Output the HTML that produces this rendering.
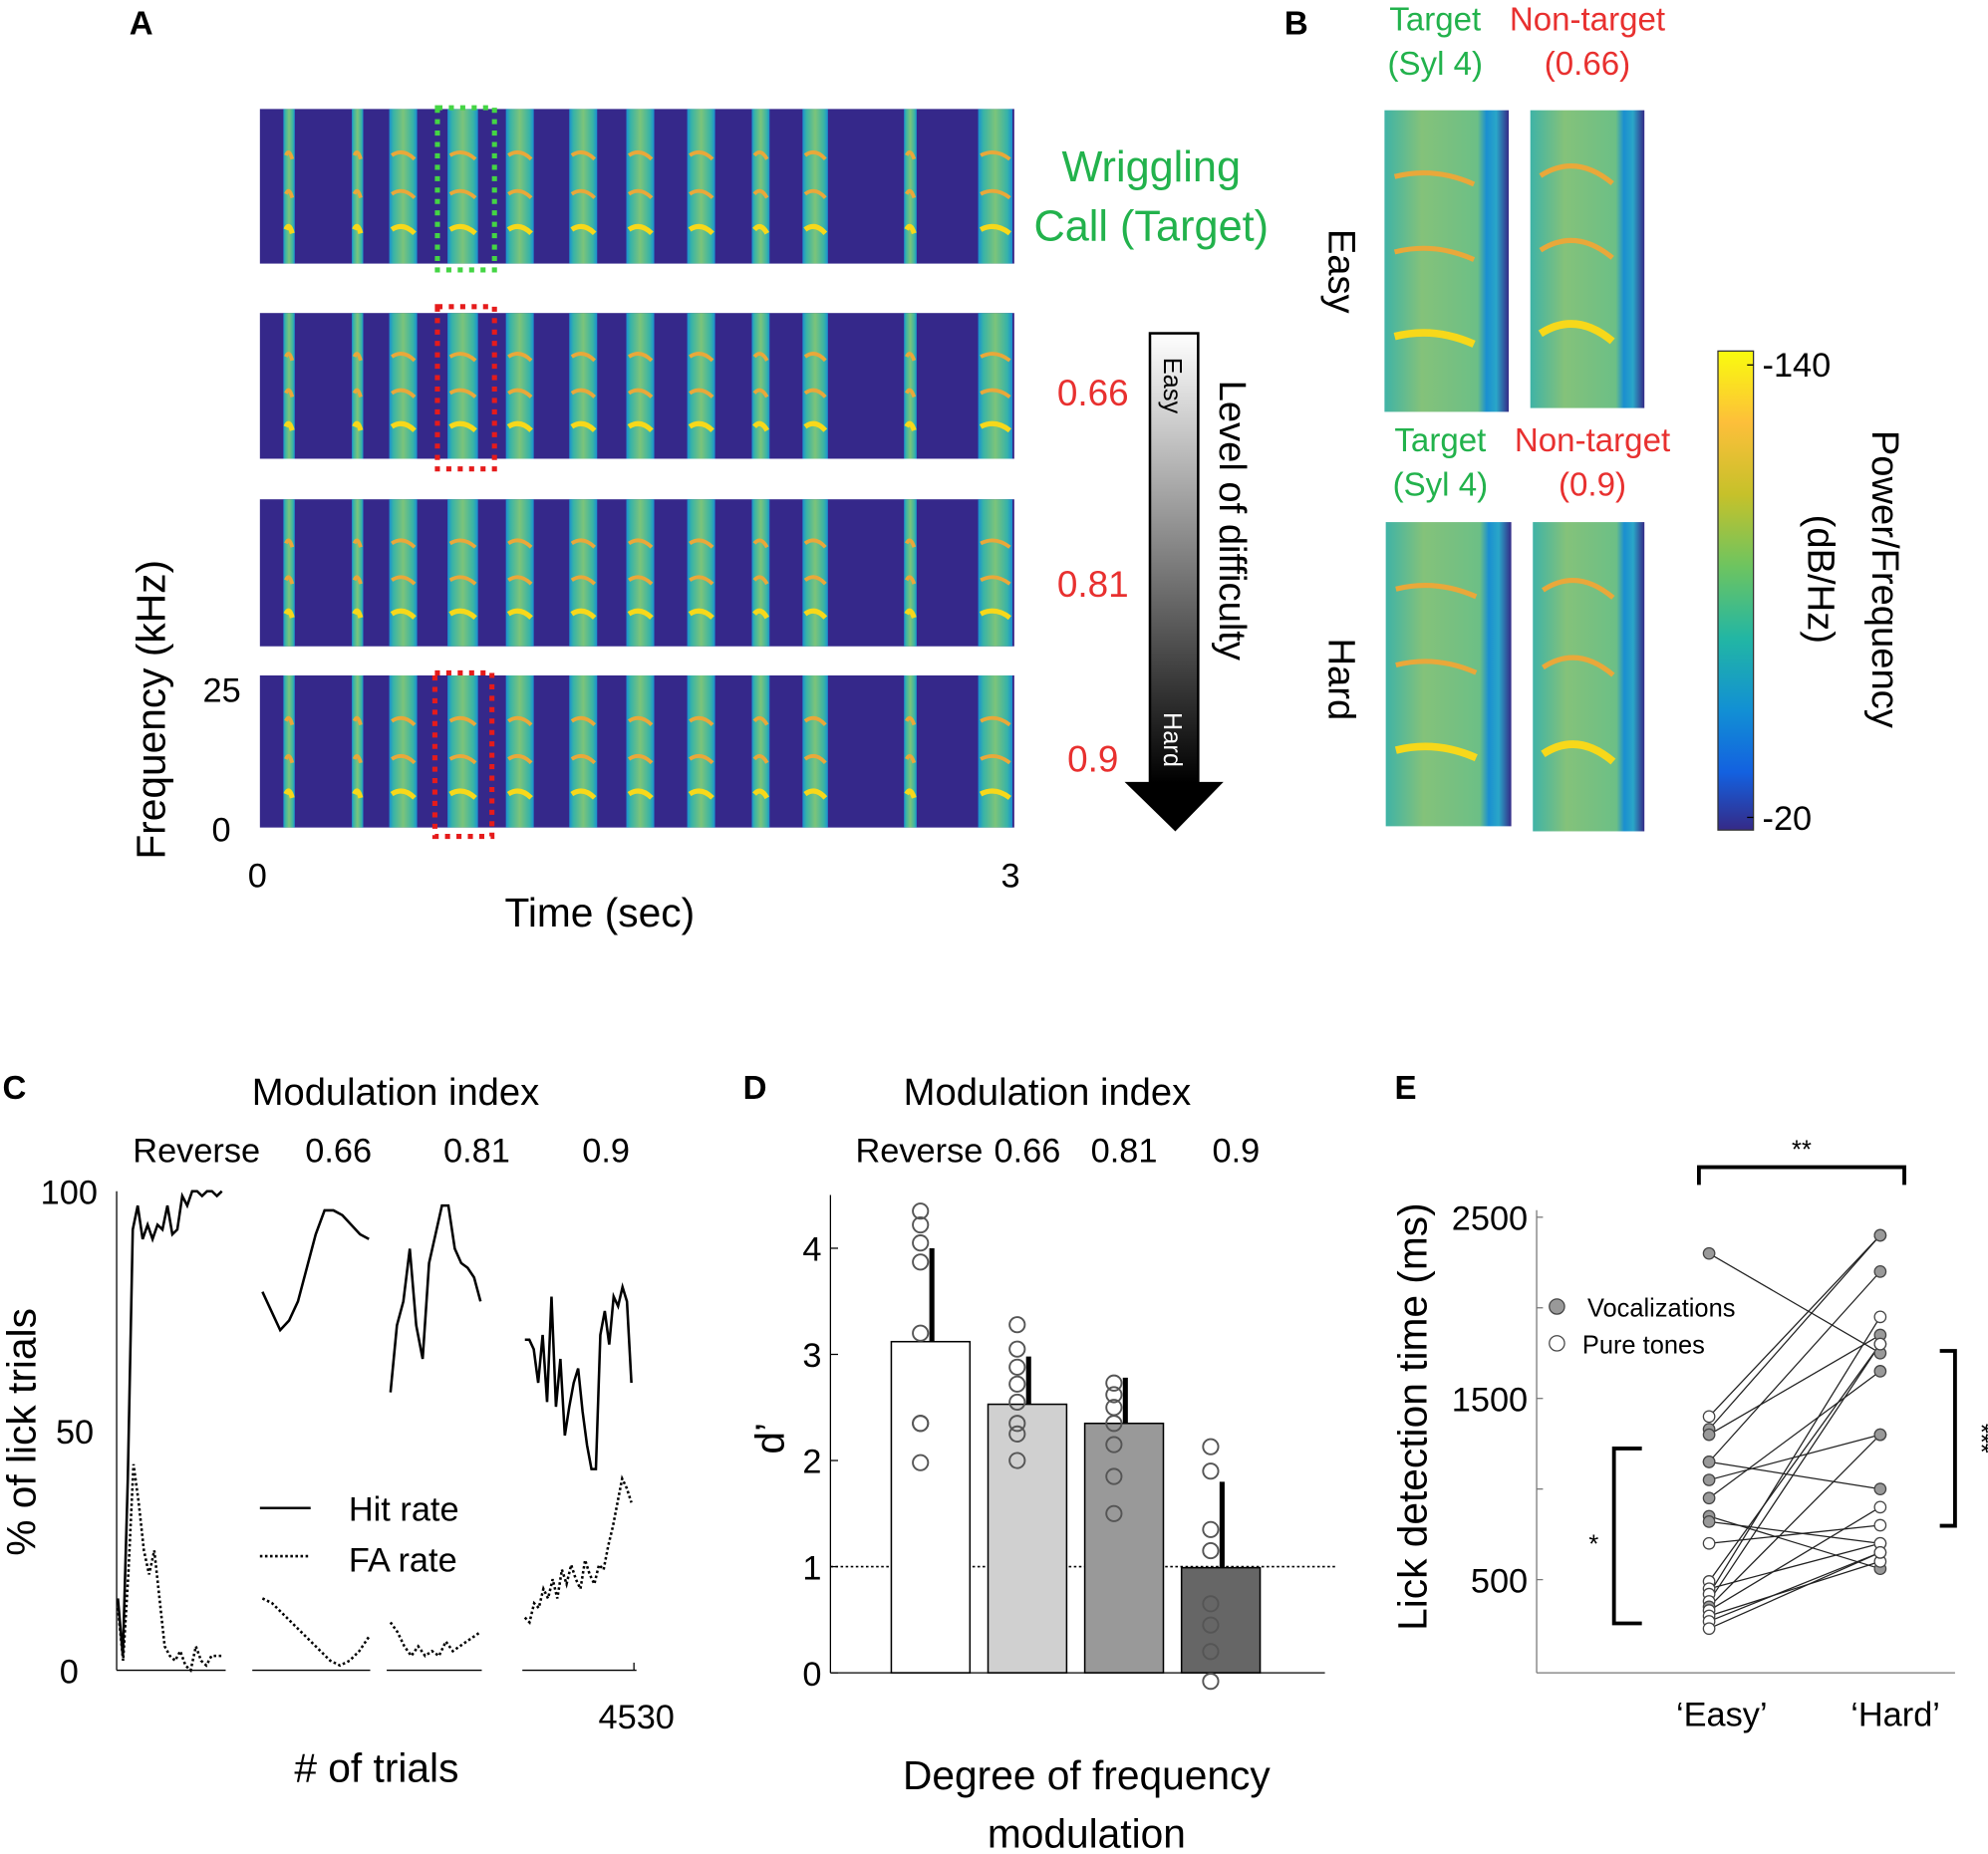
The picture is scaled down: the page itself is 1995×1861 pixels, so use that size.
<!DOCTYPE html>
<html><head><meta charset="utf-8">
<style>
html,body{margin:0;padding:0;background:#fff}
svg{display:block;font-family:"Liberation Sans",sans-serif}
</style></head>
<body>
<svg id="fig" width="1995" height="1861" viewBox="0 0 1568 1463" preserveAspectRatio="none" xmlns="http://www.w3.org/2000/svg">
<defs>
<linearGradient id="parula" x1="0" y1="0" x2="0" y2="1">
<stop offset="0" stop-color="#f9fb0e"/><stop offset="0.15" stop-color="#fdbf3a"/><stop offset="0.3" stop-color="#c6c12a"/><stop offset="0.45" stop-color="#6dc460"/><stop offset="0.6" stop-color="#22b6a4"/><stop offset="0.75" stop-color="#1290d4"/><stop offset="0.88" stop-color="#1361e0"/><stop offset="1" stop-color="#352a87"/>
</linearGradient>
<linearGradient id="diff" x1="0" y1="0" x2="0" y2="1"><stop offset="0" stop-color="#fff"/><stop offset="1" stop-color="#000"/></linearGradient>
<linearGradient id="syl" x1="0" y1="0" x2="1" y2="0"><stop offset="0" stop-color="#1a8fd0"/><stop offset="0.15" stop-color="#37b3a8"/><stop offset="0.5" stop-color="#7cc47a"/><stop offset="0.85" stop-color="#37b3a8"/><stop offset="1" stop-color="#1a8fd0"/></linearGradient>
<linearGradient id="bimg" x1="0" y1="0" x2="1" y2="0"><stop offset="0" stop-color="#3fb3a6"/><stop offset="0.3" stop-color="#84c27a"/><stop offset="0.75" stop-color="#6cbf86"/><stop offset="0.82" stop-color="#1a8fd0"/><stop offset="0.9" stop-color="#2aa6c8"/><stop offset="1" stop-color="#352a87"/></linearGradient>
</defs>
<g id="panelA"></g>
<g id="panelB"></g>
<g id="panelC"></g>
<g id="panelD"></g>
<g id="panelE"></g>
</svg>
<script>
// ---- Panel C data ----
const cHit1=[15,3,40,92,97,90,93,90,93,92,97,91,92,99,97,100,100,99,100,100,99,100];
const cFa1=[13,2,20,43,35,25,20,25,15,5,3,2,4,1,0,5,2,1,3,3,3];
const cHit2=[79,75,71,73,77,84,91,96,96,95,93,91,90];
const cFa2=[15,14,12,10,8,6,4,2,1,2,4,7];
const cHit3=[58,72,77,88,72,65,85,91,97,97,88,85,84,82,77];
const cFa3=[10,8,5,3,5,3,4,3,6,4,5,6,7,8];
const cHit4=[69,69,67,60,70,56,78,55,65,49,55,60,63,54,47,42,42,70,75,68,78,76,80,77,60];
const cFa4=[11,10,14,13,17,15,19,15,21,18,22,19,17,23,20,18,22,21,26,30,35,40,38,35];
const cTicks=[0,50,100];
// ---- Panel D data ----
const dCategories=["Reverse","0.66","0.81","0.9"];
const dMeans=[3.12,2.53,2.35,0.99];
const dErr=[4.0,2.98,2.78,1.8];
const dDots1=[4.35,4.22,4.05,3.87,3.2,2.35,2.35,1.98];
const dDots2=[3.28,3.05,2.88,2.72,2.55,2.35,2.25,2.0];
const dDots3=[2.73,2.62,2.5,2.35,2.15,1.85,1.5];
const dDots4=[2.13,1.9,1.35,1.15,0.65,0.45,0.2,-0.08];
const dTicks=[0,1,2,3,4];
// ---- Panel E data ----
const eEasy=[2300,1400,1330,1300,1150,1150,1050,950,850,820,700,490,450,420,380,350,330,300,270,230];
const eHard=[1750,2400,2400,1850,2200,1000,1300,1650,560,700,800,1800,700,1950,1800,1300,900,600,650,650];
const eVoc=[1,0,1,1,1,1,1,1,1,1,0,0,0,0,0,1,0,0,0,0];
const eTicks=[500,1500,2500];

const NS="http://www.w3.org/2000/svg";
function mk(parent,tag,attrs,text){const e=document.createElementNS(NS,tag);for(const k in attrs)e.setAttribute(k,attrs[k]);if(text!==undefined)e.textContent=text;parent.appendChild(e);return e;}

// ===== Panel A =====
const A=document.getElementById('panelA');
let t=mk(A,'text',{x:102,y:27,'font-size':26,'font-weight':'bold'},'A');

const strips=[[86,208],[247,362],[394,510],[533,653]];
const sylX=[228,282,318,365,410,460,505,553,600,643,718,785];
const sylW=[9,9,22,24,22,22,22,22,14,20,10,27];
strips.forEach((s,i)=>{
  const g=mk(A,'g',{});
  
  mk(g,'rect',{x:205,y:s[0],width:595,height:s[1]-s[0],fill:'#35288a'});
  const h=s[1]-s[0];
  sylX.forEach((x,j)=>{
    const w=sylW[j];
    mk(g,'rect',{x:x-w/2,y:s[0],width:w,height:h,fill:'url(#syl)'});
    [0.78,0.55,0.3].forEach((f,k)=>{
      mk(g,'path',{d:`M${x-w/2+2},${s[0]+h*f} Q${x},${s[0]+h*f-6} ${x+w/2-2},${s[0]+h*f+3}`,stroke:k==0?'#f7d81a':'#e9a83a','stroke-width':k==0?4:3,fill:'none'});
    });
  });
});
mk(A,'rect',{x:345,y:85,width:45,height:128,fill:'none',stroke:'#44d544','stroke-width':4,'stroke-dasharray':'4 5'});
mk(A,'rect',{x:345,y:242,width:45,height:128,fill:'none',stroke:'#e51b1b','stroke-width':4,'stroke-dasharray':'4 5'});
mk(A,'rect',{x:343,y:531,width:45,height:129,fill:'none',stroke:'#e51b1b','stroke-width':4,'stroke-dasharray':'4 5'});
[['Wriggling',908,143],['Call (Target)',908,190]].forEach(a=>{t=mk(A,'text',{x:a[1],y:a[2],'font-size':34,fill:'#22b24c','text-anchor':'middle'},a[0]);});
[['0.66',320],['0.81',471],['0.9',609]].forEach(a=>{t=mk(A,'text',{x:862,y:a[1],'font-size':29,fill:'#e8302f','text-anchor':'middle'},a[0]);});
const arr=mk(A,'g',{});
mk(arr,'rect',{x:907,y:263,width:38,height:355,fill:'url(#diff)',stroke:'#000','stroke-width':2});
mk(arr,'polygon',{points:'887,617 965,617 927,656',fill:'#000'});
mk(arr,'text',{x:0,y:0,'font-size':20,transform:'translate(918,282) rotate(90)'},'Easy');
mk(arr,'text',{x:0,y:0,'font-size':20,fill:'#fff',transform:'translate(918,562) rotate(90)'},'Hard');
t=mk(A,'text',{x:0,y:0,'font-size':30,transform:'translate(962,300) rotate(90)'},'Level of difficulty');
t=mk(A,'text',{x:0,y:0,'font-size':32,'text-anchor':'middle',transform:'translate(130,560) rotate(-90)'},'Frequency (kHz)');
mk(A,'text',{x:190,y:554,'font-size':27,'text-anchor':'end'},'25');
mk(A,'text',{x:182,y:664,'font-size':27,'text-anchor':'end'},'0');
mk(A,'text',{x:203,y:700,'font-size':27,'text-anchor':'middle'},'0');
mk(A,'text',{x:797,y:700,'font-size':27,'text-anchor':'middle'},'3');
t=mk(A,'text',{x:473,y:731,'font-size':32,'text-anchor':'middle'},'Time (sec)');

// ===== Panel B =====
const B=document.getElementById('panelB');
mk(B,'text',{x:1013,y:27,'font-size':26,'font-weight':'bold'},'B');
[['Target',1132,24,'#22b24c'],['(Syl 4)',1132,59,'#22b24c'],['Non-target',1252,24,'#e8302f'],['(0.66)',1252,59,'#e8302f'],
 ['Target',1136,356,'#22b24c'],['(Syl 4)',1136,391,'#22b24c'],['Non-target',1256,356,'#e8302f'],['(0.9)',1256,391,'#e8302f']].forEach(a=>{
 t=mk(B,'text',{x:a[1],y:a[2],'font-size':26,fill:a[3],'text-anchor':'middle'},a[0]);});
[[1092,87,98,238],[1207,87,90,235],[1093,412,99,240],[1209,412,88,244]].forEach((r,i)=>{
  const g=mk(B,'g',{});
  mk(g,'rect',{x:r[0],y:r[1],width:r[2],height:r[3],fill:'url(#bimg)'});
  [[0.75,'#f7d81a',6],[0.47,'#e9a83a',4],[0.22,'#e9a83a',4]].forEach(c=>{
    const y=r[1]+r[3]*c[0];
    mk(g,'path',{d:`M${r[0]+8},${y} Q${r[0]+r[2]*0.4},${y-(i%2?18:8)} ${r[0]+r[2]*0.72},${y+6}`,stroke:c[1],'stroke-width':c[2],fill:'none'});
  });
});
t=mk(B,'text',{x:0,y:0,'font-size':30,'text-anchor':'middle',transform:'translate(1048,214) rotate(90)'},'Easy');
t=mk(B,'text',{x:0,y:0,'font-size':30,'text-anchor':'middle',transform:'translate(1048,536) rotate(90)'},'Hard');
const cb=mk(B,'rect',{x:1355,y:277,width:28,height:378,fill:'url(#parula)',stroke:'#333','stroke-width':1});

mk(B,'line',{x1:1383,y1:288,x2:1378,y2:288,stroke:'#000'});mk(B,'line',{x1:1383,y1:645,x2:1378,y2:645,stroke:'#000'});
mk(B,'text',{x:1390,y:297,'font-size':27},'-140');
mk(B,'text',{x:1390,y:655,'font-size':27},'-20');
mk(B,'text',{x:0,y:0,'font-size':30,'text-anchor':'middle',transform:'translate(1477,457) rotate(90)'},'Power/Frequency');
mk(B,'text',{x:0,y:0,'font-size':30,'text-anchor':'middle',transform:'translate(1426,457) rotate(90)'},'(dB/Hz)');

// ===== Panel C =====
const C=document.getElementById('panelC');
mk(C,'text',{x:2,y:867,'font-size':26,'font-weight':'bold'},'C');
mk(C,'text',{x:312,y:872,'font-size':30,'text-anchor':'middle'},'Modulation index');
[['Reverse',155],['0.66',267],['0.81',376],['0.9',478]].forEach(a=>mk(C,'text',{x:a[1],y:917,'font-size':27,'text-anchor':'middle'},a[0]));
const cY=v=>1318-v*3.78;
cTicks.forEach(v=>{t=mk(C,'text',{x:v==100?77:(v==50?74:62),y:cY(v)+10,'font-size':27,'text-anchor':'end'},String(v));});
t=mk(C,'text',{x:0,y:0,'font-size':32,'text-anchor':'middle',transform:'translate(28,1130) rotate(-90)'},'% of lick trials');
mk(C,'line',{x1:92,y1:940,x2:92,y2:1318,stroke:'#000','stroke-width':1});
const subs=[[cHit1,cFa1,93,175,92,178],[cHit2,cFa2,207,291,199,292],[cHit3,cFa3,308,379,305,380],[cHit4,cFa4,414,498,412,502]];
subs.forEach((s,i)=>{
  const g=mk(C,'g',{});
  mk(g,'line',{x1:s[4],y1:1318,x2:s[5],y2:1318,stroke:'#000','stroke-width':1});
  [[s[0],''],[s[1],'2 2']].forEach(p=>{
    const arrv=p[0];const pts=arrv.map((v,k)=>`${s[2]+(s[3]-s[2])*k/(arrv.length-1)},${cY(v)}`).join(' ');
    const l=mk(g,'polyline',{points:pts,fill:'none',stroke:'#000','stroke-width':2,'stroke-dasharray':p[1]});
    
  });
});
mk(C,'line',{x1:500,y1:1318,x2:500,y2:1312,stroke:'#000'});
mk(C,'text',{x:502,y:1364,'font-size':27,'text-anchor':'middle'},'4530');
mk(C,'text',{x:297,y:1406,'font-size':32,'text-anchor':'middle'},'# of trials');
const lg=mk(C,'g',{});
mk(lg,'line',{x1:205,y1:1190,x2:245,y2:1190,stroke:'#000','stroke-width':2});
mk(lg,'line',{x1:205,y1:1228,x2:245,y2:1228,stroke:'#000','stroke-width':2,'stroke-dasharray':'2 2'});
mk(lg,'text',{x:275,y:1200,'font-size':27},'Hit rate');
mk(lg,'text',{x:275,y:1240,'font-size':27},'FA rate');

// ===== Panel D =====
const D=document.getElementById('panelD');
mk(D,'text',{x:586,y:867,'font-size':26,'font-weight':'bold'},'D');
mk(D,'text',{x:826,y:872,'font-size':30,'text-anchor':'middle'},'Modulation index');
const dX=i=>734+i*76.3;
const dY=v=>1320-v*83.75;
dCategories.forEach((c,i)=>{t=mk(D,'text',{x:i==0?725:dX(i)+(i==3?12:0),y:917,'font-size':27,'text-anchor':'middle'},c);});
mk(D,'line',{x1:655,y1:943,x2:655,y2:1320,stroke:'#000'});
mk(D,'line',{x1:655,y1:1320,x2:1045,y2:1320,stroke:'#000'});
dTicks.forEach(v=>{mk(D,'line',{x1:655,y1:dY(v),x2:661,y2:dY(v),stroke:'#000'});t=mk(D,'text',{x:648,y:dY(v)+10,'font-size':27,'text-anchor':'end'},String(v));});
t=mk(D,'text',{x:0,y:0,'font-size':32,'text-anchor':'middle',transform:'translate(618,1135) rotate(-90)'},'d’');
mk(D,'line',{x1:655,y1:dY(1),x2:1055,y2:dY(1),stroke:'#000','stroke-width':1.2,'stroke-dasharray':'2 2'});
const fills=['#ffffff','#d0d0d0','#999999','#666666'];
const dots=[dDots1,dDots2,dDots3,dDots4];
dMeans.forEach((m,i)=>{
  const b=mk(D,'rect',{x:dX(i)-31,y:dY(m),width:62,height:dY(0)-dY(m),fill:fills[i],stroke:'#000','stroke-width':1.2});
  
  const e=mk(D,'line',{x1:dX(i)+1,y1:dY(m),x2:dX(i)+1,y2:dY(dErr[i]),stroke:'#000','stroke-width':4});
  
  dots[i].forEach(v=>{const c=mk(D,'circle',{cx:dX(i)-8,cy:dY(v),r:6,fill:'none',stroke:'#555','stroke-width':1.5});});
});
mk(D,'text',{x:857,y:1412,'font-size':32,'text-anchor':'middle'},'Degree of frequency');
mk(D,'text',{x:857,y:1458,'font-size':32,'text-anchor':'middle'},'modulation');

// ===== Panel E =====
const E=document.getElementById('panelE');
mk(E,'text',{x:1100,y:867,'font-size':26,'font-weight':'bold'},'E');
const eY=v=>1318-v*0.143;
const ex1=1348, ex2=1483;
mk(E,'line',{x1:1212,y1:955,x2:1212,y2:1320,stroke:'#777'});
mk(E,'line',{x1:1212,y1:1320,x2:1542,y2:1320,stroke:'#777'});
[500,1000,1500,2000,2500].forEach(v=>mk(E,'line',{x1:1212,y1:eY(v),x2:1217,y2:eY(v),stroke:'#777'}));
eTicks.forEach(v=>{t=mk(E,'text',{x:1205,y:eY(v)+10,'font-size':27,'text-anchor':'end'},String(v));});
mk(E,'text',{x:0,y:0,'font-size':32,'text-anchor':'middle',transform:'translate(1125,1118) rotate(-90)'},'Lick detection time (ms)');
mk(E,'text',{x:1358,y:1362,'font-size':27,'text-anchor':'middle'},'‘Easy’');
mk(E,'text',{x:1495,y:1362,'font-size':27,'text-anchor':'middle'},'‘Hard’');
eEasy.forEach((v,i)=>{const l=mk(E,'line',{x1:ex1,y1:eY(v),x2:ex2,y2:eY(eHard[i]),stroke:'#222','stroke-width':1});});
eEasy.forEach((v,i)=>{
  [[ex1,v],[ex2,eHard[i]]].forEach(p=>{const c=mk(E,'circle',{cx:p[0],cy:eY(p[1]),r:4.5,fill:eVoc[i]?'#999':'#fff',stroke:'#444','stroke-width':1});});
});
const el=mk(E,'g',{});
mk(el,'circle',{cx:1228,cy:1031,r:6,fill:'#999',stroke:'#444'});
mk(el,'circle',{cx:1228,cy:1060,r:6,fill:'#fff',stroke:'#444'});
mk(el,'text',{x:1252,y:1039,'font-size':20},'Vocalizations');
mk(el,'text',{x:1248,y:1068,'font-size':20},'Pure tones');
mk(E,'path',{d:'M1340,935 V921 H1502 V935',fill:'none',stroke:'#000','stroke-width':3});
mk(E,'text',{x:1421,y:914,'font-size':20,'text-anchor':'middle'},'**');
mk(E,'path',{d:'M1295,1143 H1273 V1281 H1295',fill:'none',stroke:'#000','stroke-width':3});
mk(E,'text',{x:1257,y:1225,'font-size':20,'text-anchor':'middle'},'*');
mk(E,'path',{d:'M1530,1066 H1542 V1204 H1530',fill:'none',stroke:'#000','stroke-width':3});
mk(E,'text',{x:0,y:0,'font-size':20,'text-anchor':'middle',transform:'translate(1556,1135) rotate(90)'},'***');
</script>
</body></html>
